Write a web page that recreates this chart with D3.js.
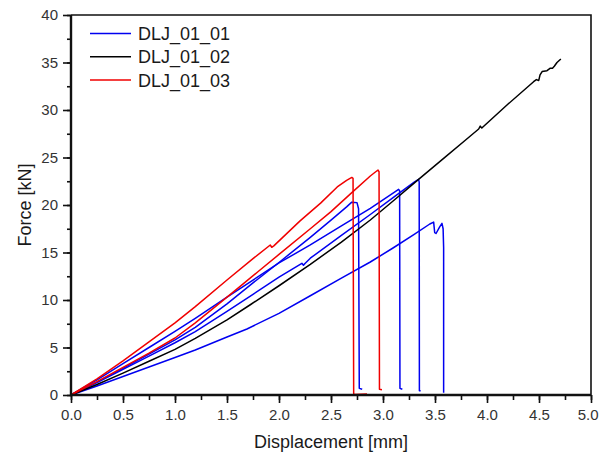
<!DOCTYPE html>
<html>
<head>
<meta charset="utf-8">
<script src="https://cdn.jsdelivr.net/npm/d3@7"></script>
<style>
  html, body { margin: 0; padding: 0; background: #fff; }
  svg { display: block; font-family: "Liberation Sans", Arial, sans-serif; }
</style>
</head>
<body>
<svg id="chart" width="599" height="454"></svg>
<script>
// ---- Data ----
const seriesNames = ["DLJ_01_01", "DLJ_01_02", "DLJ_01_03"];
const seriesColors = ["#0000f0", "#000000", "#f00000"];

const xTicks = [0.0, 0.5, 1.0, 1.5, 2.0, 2.5, 3.0, 3.5, 4.0, 4.5, 5.0];
const yTicks = [0, 5, 10, 15, 20, 25, 30, 35, 40];

// DLJ_01_01 (blue) – four loading runs
const dlj0101_a = [[0,0],[0.25,1.35],[0.5,2.8],[0.75,4.3],[1.0,5.8],[1.195,7.12],[1.5,9.6],[1.75,11.8],[2.0,13.95],[2.301,16.6],[2.5,18.4],[2.65,19.8],[2.70,20.3],[2.75,20.25],[2.765,19.6],[2.772,0.7],[2.80,0.6]];
const dlj0101_b = [[0,0],[0.25,1.6],[0.5,3.3],[0.75,5.0],[1.0,6.7],[1.195,8.07],[1.5,10.3],[1.75,12.1],[2.0,13.9],[2.301,15.8],[2.6,17.8],[2.878,19.65],[3.05,20.9],[3.15,21.65],[3.16,21.5],[3.163,0.7],[3.186,0.6]];
const dlj0101_c = [[0,0],[0.25,1.3],[0.5,2.7],[0.75,4.1],[1.0,5.5],[1.195,6.67],[1.5,8.8],[1.75,10.6],[2.0,12.4],[2.22,13.86],[2.235,13.65],[2.25,13.85],[2.301,14.4],[2.6,16.8],[2.878,19.0],[3.1,20.8],[3.3,22.4],[3.342,22.7],[3.348,22.4],[3.35,0.45],[3.362,0.45]];
const dlj0101_d = [[0,0],[0.25,0.95],[0.5,1.95],[0.75,2.95],[1.0,3.95],[1.195,4.74],[1.5,6.1],[1.692,6.95],[2.0,8.6],[2.301,10.45],[2.6,12.3],[2.878,14.0],[3.1,15.5],[3.3,16.9],[3.45,18.0],[3.487,18.2],[3.497,17.1],[3.51,17.0],[3.545,17.7],[3.567,18.07],[3.578,17.5],[3.583,15.5],[3.583,0.25]];

// DLJ_01_02 (black)
const dlj0102 = [[0,0],[0.25,1.1],[0.5,2.3],[0.75,3.55],[1.0,4.8],[1.195,5.96],[1.5,7.9],[1.724,9.5],[2.0,11.5],[2.301,13.75],[2.6,16.1],[2.878,18.42],[3.1,20.45],[3.342,22.7],[3.583,24.9],[3.8,26.9],[3.92,28.0],[3.935,28.3],[3.95,28.1],[4.2,30.6],[4.448,32.98],[4.475,33.2],[4.497,33.1],[4.51,33.7],[4.53,34.05],[4.577,34.14],[4.609,34.4],[4.63,34.4],[4.647,34.6],[4.673,35.0],[4.71,35.37]];

// DLJ_01_03 (red) – two loading runs
const dlj0103_a = [[0,0],[0.25,1.7],[0.5,3.6],[0.75,5.6],[1.0,7.6],[1.195,9.3],[1.5,12.1],[1.75,14.35],[1.916,15.79],[1.93,15.55],[1.95,15.7],[2.2,18.3],[2.4,20.2],[2.56,21.9],[2.65,22.6],[2.70,22.9],[2.712,22.8],[2.718,0.2],[2.72,0.05],[2.846,0.1]];
const dlj0103_b = [[0,0],[0.25,1.4],[0.5,2.9],[0.75,4.4],[1.0,6.0],[1.195,7.6],[1.4,9.4],[1.6,11.2],[1.8,13.0],[2.0,14.8],[2.301,17.5],[2.5,19.3],[2.7,21.3],[2.878,23.05],[2.93,23.5],[2.952,23.68],[2.962,23.5],[2.966,0.6],[2.99,0.55]];

const curves = [
  { data: dlj0101_a, s: 0 }, { data: dlj0101_b, s: 0 }, { data: dlj0101_c, s: 0 }, { data: dlj0101_d, s: 0 },
  { data: dlj0102, s: 1 },
  { data: dlj0103_a, s: 2 }, { data: dlj0103_b, s: 2 }
];

// ---- Layout ----
const svg = d3.select("#chart");
const W = 599, H = 454;
const m = { left: 71, right: 8, top: 15, bottom: 59 };
const x = d3.scaleLinear().domain([0, 5]).range([m.left, W - m.right]);
const y = d3.scaleLinear().domain([0, 40]).range([H - m.bottom, m.top]);

svg.append("rect").attr("width", W).attr("height", H).attr("fill", "#fff");

// top/right frame
svg.append("path")
  .attr("d", `M${x(0)},${y(40)}H${x(5)}V${y(0)}`)
  .attr("fill", "none").attr("stroke", "#111").attr("stroke-width", 1.6);

// curves
const line = d3.line().x(d => x(d[0])).y(d => y(d[1]));
svg.append("g").selectAll("path")
  .data(curves)
  .join("path")
  .attr("d", d => line(d.data))
  .attr("fill", "none")
  .attr("stroke", d => seriesColors[d.s])
  .attr("stroke-width", 1.5)
  .attr("stroke-linejoin", "round");

// axes
const xMinor = d3.range(0, 5.001, 0.25);
const yMinor = d3.range(0, 40.001, 2.5);

const xAxisG = svg.append("g").attr("transform", `translate(0,${y(0)})`);
xAxisG.call(d3.axisBottom(x).tickValues(xMinor).tickSize(5).tickFormat(""))
  .call(g => g.select(".domain").remove())
  .call(g => g.selectAll("line").attr("stroke", "#111").attr("stroke-width", 1.6));
const xMajorG = svg.append("g").attr("transform", `translate(0,${y(0)})`);
xMajorG.call(d3.axisBottom(x).tickValues(xTicks).tickSize(8).tickPadding(6).tickFormat(d3.format(".1f")))
  .call(g => g.select(".domain").remove())
  .call(g => g.selectAll("line").attr("stroke", "#111").attr("stroke-width", 1.6))
  .call(g => g.selectAll("text").attr("font-size", 15).attr("fill", "#333")
      .attr("font-family", "'Liberation Sans', Arial, sans-serif"))
  .call(g => g.selectAll(".tick").filter(d => d === 5).select("text")
      .attr("text-anchor", "end").attr("x", 598 - x(5)));

const yAxisG = svg.append("g").attr("transform", `translate(${x(0)},0)`);
yAxisG.call(d3.axisLeft(y).tickValues(yMinor).tickSize(4).tickFormat(""))
  .call(g => g.select(".domain").remove())
  .call(g => g.selectAll("line").attr("stroke", "#111").attr("stroke-width", 1.6));
const yMajorG = svg.append("g").attr("transform", `translate(${x(0)},0)`);
yMajorG.call(d3.axisLeft(y).tickValues(yTicks).tickSize(8).tickPadding(5).tickFormat(d3.format("d")))
  .call(g => g.select(".domain").remove())
  .call(g => g.selectAll("line").attr("stroke", "#111").attr("stroke-width", 1.6))
  .call(g => g.selectAll("text").attr("font-size", 15).attr("fill", "#333")
      .attr("font-family", "'Liberation Sans', Arial, sans-serif"));

// left & bottom axis lines (thicker)
svg.append("path")
  .attr("d", `M${x(0)},${y(40)}V${y(0)}H${x(5)}`)
  .attr("fill", "none").attr("stroke", "#111").attr("stroke-width", 2.4);

// axis titles
svg.append("text")
  .attr("x", (x(0) + x(5)) / 2).attr("y", 448)
  .attr("text-anchor", "middle").attr("font-size", 18).attr("fill", "#1a1a1a")
  .text("Displacement [mm]");
svg.append("text")
  .attr("transform", `translate(31,${(y(0) + y(40)) / 2}) rotate(-90)`)
  .attr("text-anchor", "middle").attr("font-size", 18).attr("fill", "#1a1a1a")
  .text("Force [kN]");

// legend
const lg = svg.append("g");
seriesNames.forEach((name, i) => {
  const ly = 33.5 + i * 23.3;
  lg.append("line").attr("x1", 90).attr("x2", 131).attr("y1", ly).attr("y2", ly)
    .attr("stroke", seriesColors[i]).attr("stroke-width", 1.5);
  lg.append("text").attr("x", 138).attr("y", ly + 6.5)
    .attr("font-size", 18).attr("fill", "#1a1a1a").text(name);
});
</script>
</body>
</html>
